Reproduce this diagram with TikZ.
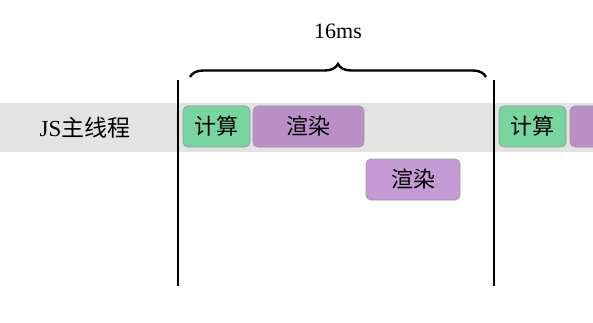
\documentclass[tikz,border=0pt]{standalone}
\usepackage{fontspec}
\setmainfont{Liberation Serif}
\newfontfamily\cjk{Noto Sans CJK SC}
\usetikzlibrary{decorations.pathreplacing}
\definecolor{bandgray}{HTML}{E3E3E3}
\definecolor{calcgreen}{HTML}{78D5A0}
\definecolor{rendpurple}{HTML}{B98FC7}
\definecolor{rendlight}{HTML}{C49BD4}
\definecolor{boxborder}{HTML}{9A9A9A}
\tikzset{
  task/.style={draw=boxborder, line width=0.8pt, rounded corners=5pt, inner sep=0pt, font=\fontsize{22}{26}\selectfont\cjk},
  calc/.style={task, fill=calcgreen},
  rend/.style={task, fill=rendpurple},
  rendl/.style={task, fill=rendlight},
  frameline/.style={line width=2.8pt, black},
}
\begin{document}
\begin{tikzpicture}[x=1pt,y=-1pt]
\useasboundingbox (0,0) rectangle (593,323);
\clip (0,0) rectangle (593,323);
\fill[bandgray] (0,103) rectangle (593,152);
\node[font=\fontsize{23}{26}\selectfont] (label) at (85,128) {JS{\cjk 主线程}};
\node[calc, minimum width=67pt, minimum height=41pt] (c1) at (216.5,126.5) {计算};
\node[rend, minimum width=111pt, minimum height=41pt] (r1) at (308.5,126.5) {渲染};
\node[rendl, minimum width=94pt, minimum height=41pt] (r2) at (413,179.5) {渲染};
\node[calc, minimum width=67pt, minimum height=41pt] (c2) at (532.5,126.5) {计算};
\node[rend, minimum width=60pt, minimum height=41pt] (r3) at (600,126.5) {};
\coordinate (l1t) at (178,80);
\coordinate (l1b) at (178,286);
\coordinate (l2t) at (494,80);
\coordinate (l2b) at (494,286);
\draw[frameline] (l1t) -- (l1b);
\draw[frameline] (l2t) -- (l2b);
\coordinate (bs) at (190,77);
\coordinate (be) at (486,77);
\draw[line width=2.4pt, decorate, decoration={brace, amplitude=13pt}] (bs) -- (be);
\node[font=\fontsize{22}{26}\selectfont] (dur) at (338,31) {16ms};
\end{tikzpicture}
\end{document}
